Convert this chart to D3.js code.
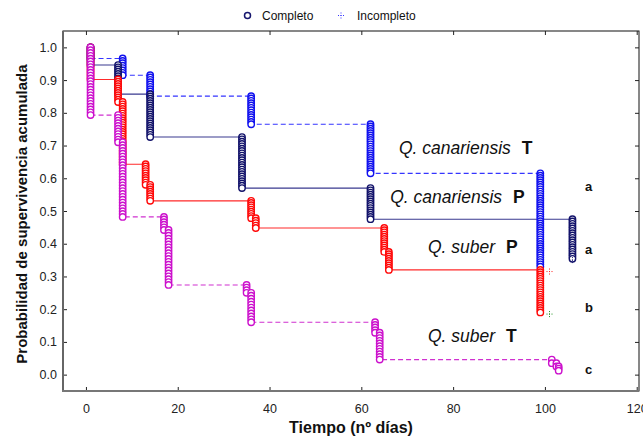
<!DOCTYPE html>
<html>
<head>
<meta charset="utf-8">
<script src="https://cdn.jsdelivr.net/npm/d3@7"></script>
<style>
body { margin: 0; background: #fff; }
svg { font-family: Arial, "Liberation Sans", sans-serif; }
</style>
</head>
<body>
<svg id="km" width="643" height="441"></svg>
<script>

// axis ticks
var xTicks = [0, 20, 40, 60, 80, 100, 120];
var yTicks = [0, 0.1, 0.2, 0.3, 0.4, 0.5, 0.6, 0.7, 0.8, 0.9, 1.0];

// survival steps: [day, survival after the drop], every curve starts at 1.0
var canT_steps = [[1, 0.966], [8, 0.915], [14, 0.851], [36, 0.765], [62, 0.615], [99, 0.33]];
var canP_steps = [[1, 0.946], [7, 0.857], [14, 0.726], [34, 0.57], [62, 0.475], [106, 0.354]];
var subP_steps = [[1, 0.902], [7, 0.833], [8, 0.643], [13, 0.58], [14, 0.531], [36, 0.478], [37, 0.448],
                  [65, 0.375], [66, 0.32], [99, 0.19]];
var subT_steps = [[1, 0.793], [7, 0.71], [8, 0.482], [17, 0.442], [18, 0.274], [35, 0.25], [36, 0.16],
                  [63, 0.128], [64, 0.046], [101.5, 0.035], [102.5, 0.025], [103, 0.012]];

// plants per group
var groupN = [72, 72, 72, 58];

// censored cases
var censored_days = [106, 101, 101];
var censored_surv = [0.35, 0.315, 0.185];

var labels = ["Q. canariensis", "Q. canariensis", "Q. suber", "Q. suber"];
var treatments = ["T", "P", "P", "T"];
var letters = ["a", "a", "b", "c"];
var letterSurv = [0.561, 0.368, 0.191, 0.002];

// styles
var series = [
  {steps: canT_steps, n: groupN[0], dot: "#1010ee", line: "#3535ff", dash: "5,3"},
  {steps: canP_steps, n: groupN[1], dot: "#12126a", line: "#3a3a90", dash: null},
  {steps: subP_steps, n: groupN[2], dot: "#ff0808", line: "#ff2a2a", dash: null},
  {steps: subT_steps, n: groupN[3], dot: "#cc10cc", line: "#d030d0", dash: "5,3"}
];
var censoredColor = ["#16166e", "#ff2020", "#209020"];
var dotsPerDeath = 2;   // stacked markers look dense, as in Statistica

var svg = d3.select("#km");

var pLeft = 63, pRight = 639, pTop = 31, pBottom = 391;

var x = d3.scaleLinear().domain([-5, 120.5]).range([pLeft, pRight]);
var y = d3.scaleLinear().domain([-0.05, 1.05]).range([pBottom, pTop]);

// frame
svg.append("rect")
  .attr("x", pLeft).attr("y", pTop)
  .attr("width", pRight - pLeft).attr("height", pBottom - pTop)
  .attr("fill", "none").attr("stroke", "#111").attr("stroke-width", 1);

function styleAxis(g) {
  g.select(".domain").remove();
  g.selectAll(".tick line").attr("stroke", "#222");
  g.selectAll(".tick text").attr("fill", "#222").style("font-size", "12.5px")
    .style("font-family", "Arial, 'Liberation Sans', sans-serif");
}

svg.append("g")
  .attr("transform", "translate(0," + pBottom + ")")
  .call(d3.axisBottom(x).tickValues(xTicks).tickFormat(d3.format("d"))
    .tickSizeInner(-4).tickSizeOuter(0).tickPadding(13))
  .call(styleAxis);

svg.append("g")
  .attr("transform", "translate(" + pLeft + ",0)")
  .call(d3.axisLeft(y).tickValues(yTicks).tickFormat(d3.format(".1f"))
    .tickSizeInner(-4).tickSizeOuter(0).tickPadding(6))
  .call(styleAxis);

svg.append("g")
  .attr("transform", "translate(0," + pTop + ")")
  .call(d3.axisTop(x).tickValues(xTicks).tickFormat("").tickSizeInner(-4).tickSizeOuter(0))
  .call(styleAxis);

svg.append("g")
  .attr("transform", "translate(" + pRight + ",0)")
  .call(d3.axisRight(y).tickValues(yTicks).tickFormat("").tickSizeInner(-4).tickSizeOuter(0))
  .call(styleAxis);

// thicker grey left and bottom axis lines
svg.append("line").attr("x1", pLeft).attr("x2", pLeft).attr("y1", pTop).attr("y2", pBottom + 1)
  .attr("stroke", "#666").attr("stroke-width", 2);
svg.append("line").attr("x1", pLeft - 1).attr("x2", pRight).attr("y1", pBottom).attr("y2", pBottom)
  .attr("stroke", "#777").attr("stroke-width", 2);

// step lines
var stepLine = d3.line()
  .x(function(d) { return x(d[0]); })
  .y(function(d) { return y(d[1]); })
  .curve(d3.curveStepAfter);

series.forEach(function(s) {
  svg.append("path")
    .datum(s.steps)
    .attr("d", stepLine)
    .attr("fill", "none")
    .attr("stroke", s.line)
    .attr("stroke-width", 1.1)
    .attr("stroke-dasharray", s.dash);
});

// circles stacked from the previous level down to the new one
series.forEach(function(s) {
  var pts = [];
  var prev = 1.0;
  s.steps.forEach(function(st) {
    var k = Math.max(1, Math.round((prev - st[1]) * s.n * dotsPerDeath));
    for (var i = 0; i <= k; i++) {
      pts.push([st[0], prev - (prev - st[1]) * i / k]);
    }
    prev = st[1];
  });
  svg.append("g").selectAll("circle")
    .data(pts)
    .enter().append("circle")
    .attr("cx", function(d) { return x(d[0]); })
    .attr("cy", function(d) { return y(d[1]); })
    .attr("r", 3.2)
    .attr("fill", "#fff")
    .attr("stroke", s.dot)
    .attr("stroke-width", 1.4);
});

// censored markers (dotted crosses)
function dottedCross(g, cx, cy, col) {
  g.append("line").attr("x1", cx - 3).attr("x2", cx + 3).attr("y1", cy).attr("y2", cy)
    .attr("stroke", col).attr("stroke-width", 1).attr("stroke-dasharray", "1,1.5");
  g.append("line").attr("x1", cx).attr("x2", cx).attr("y1", cy - 3).attr("y2", cy + 3)
    .attr("stroke", col).attr("stroke-width", 1).attr("stroke-dasharray", "1,1.5");
}
var cg = svg.append("g");
censored_days.forEach(function(d, i) {
  dottedCross(cg, x(d), y(censored_surv[i]), censoredColor[i]);
});

// curve labels
var labelDay = [68.2, 66.3, 74.5, 74.5];
var labelSurv = [0.674, 0.525, 0.372, 0.099];
labels.forEach(function(l, i) {
  var t = svg.append("text")
    .attr("x", x(labelDay[i])).attr("y", y(labelSurv[i]))
    .style("font-size", "17.5px").attr("fill", "#111");
  t.append("tspan").style("font-style", "italic").text(l);
  t.append("tspan").attr("dx", 11).style("font-weight", "bold").text(treatments[i]);
});

// significance letters
letters.forEach(function(l, i) {
  svg.append("text")
    .attr("x", 585).attr("y", y(letterSurv[i]))
    .style("font-size", "13px").style("font-weight", "bold").attr("fill", "#111")
    .text(l);
});

// axis titles
svg.append("text")
  .attr("x", (pLeft + pRight) / 2).attr("y", 433)
  .attr("text-anchor", "middle")
  .style("font-size", "16px").style("font-weight", "bold").attr("fill", "#111")
  .text("Tiempo (nº días)");

svg.append("text")
  .attr("transform", "translate(27," + ((pTop + pBottom) / 2 + 3) + ") rotate(-90)")
  .attr("text-anchor", "middle")
  .style("font-size", "15px").style("font-weight", "bold").attr("fill", "#111")
  .text("Probabilidad de supervivencia acumulada");

// legend
svg.append("circle").attr("cx", 247.5).attr("cy", 15.5).attr("r", 3)
  .attr("fill", "#fff").attr("stroke", "#16166e").attr("stroke-width", 1.5);
svg.append("text").attr("x", 262).attr("y", 20).style("font-size", "12px").attr("fill", "#111")
  .text("Completo");
dottedCross(svg, 341, 15.5, "#3535ff");
svg.append("text").attr("x", 357).attr("y", 20).style("font-size", "12px").attr("fill", "#111")
  .text("Incompleto");

</script>
</body>
</html>
